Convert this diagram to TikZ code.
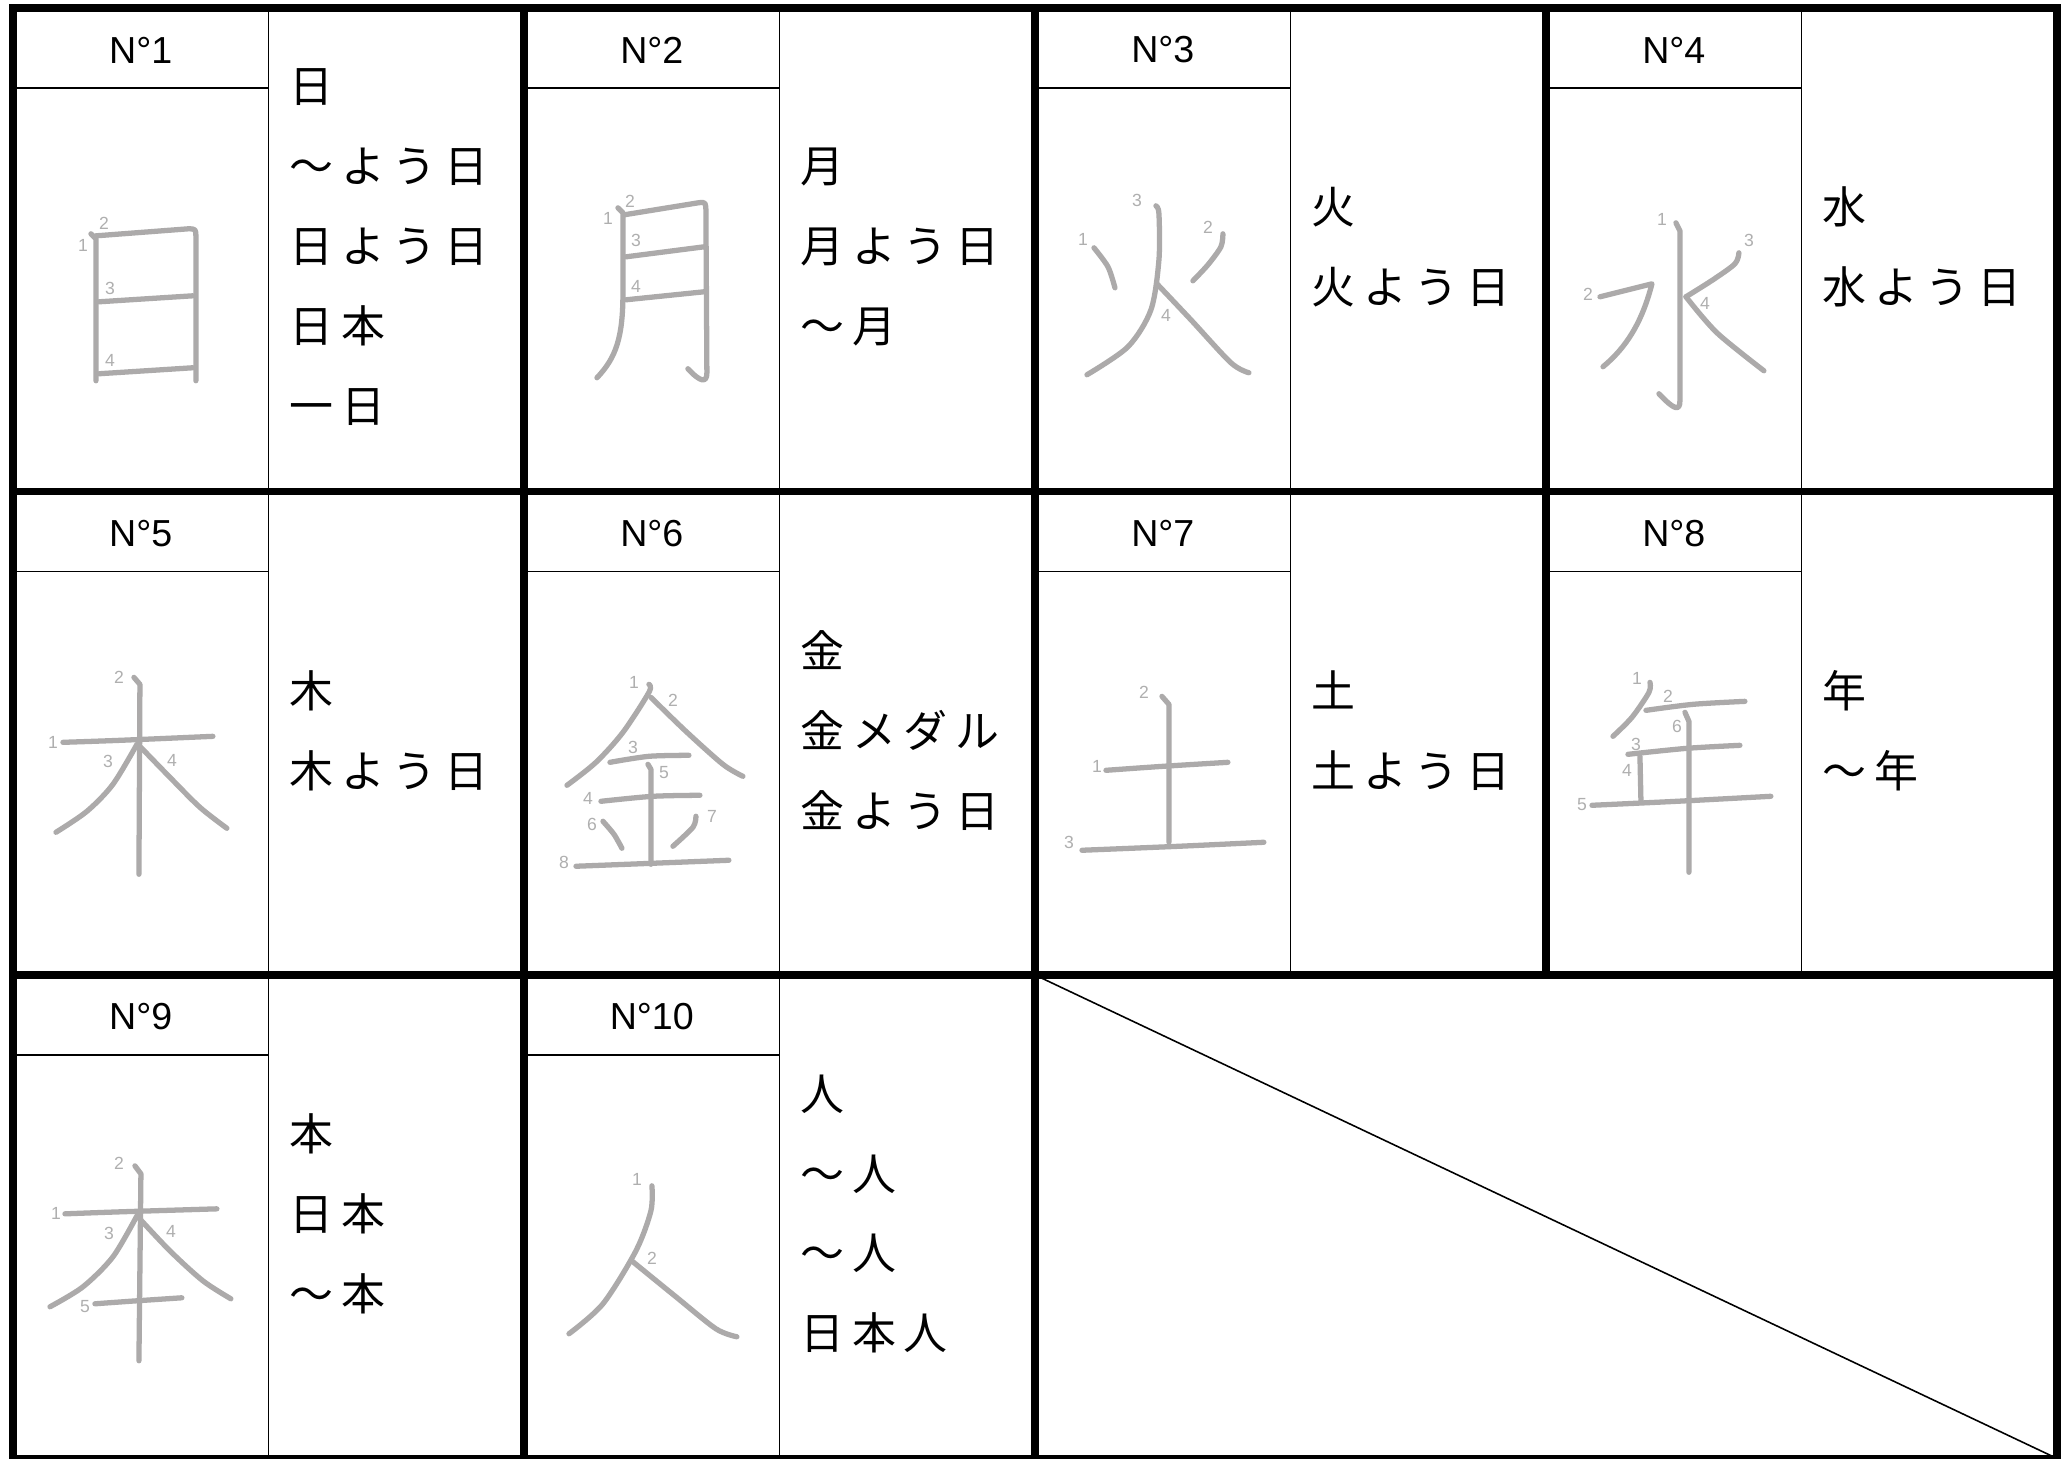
\documentclass[tikz,border=0pt]{standalone}
\usepackage{fontspec}
\setmainfont{Liberation Sans}
\newfontfamily\jpfont[LetterSpace=18]{Noto Sans CJK JP}
\usetikzlibrary{positioning}
\definecolor{strokegray}{RGB}{172,170,170}
\definecolor{numgray}{RGB}{175,175,175}
\tikzset{
  gridthick/.style={black,line width=2.2pt},
  gridthin/.style={black,line width=0.55pt},
  kstroke/.style={strokegray,line width=1.5pt,line cap=round,line join=round},
  knum/.style={text=numgray,font=\fontsize{5}{6}\selectfont,inner sep=0pt},
  headtext/.style={font=\fontsize{10.7}{12}\selectfont,inner sep=0pt},
  wordtext/.style={font=\jpfont\fontsize{12.5}{22.76}\selectfont,align=left,anchor=west,inner xsep=0pt},
  kanjibox/.style={x=0.01cm,y=-0.01cm}
}

\begin{document}
\begin{tikzpicture}
\useasboundingbox (0,0) rectangle (20.67,14.59);
\fill[white] (0,0) rectangle (20.67,14.59);

% thin lines
\draw[gridthin] (2.685,0.005) -- (2.685,14.51);
\draw[gridthin] (7.795,0.005) -- (7.795,14.51);
\draw[gridthin] (12.905,4.84) -- (12.905,14.51);
\draw[gridthin] (18.015,4.84) -- (18.015,14.51);
\draw[gridthin] (0.13,13.71) -- (2.685,13.71);
\draw[gridthin] (5.24,13.71) -- (7.795,13.71);
\draw[gridthin] (10.35,13.71) -- (12.905,13.71);
\draw[gridthin] (15.46,13.71) -- (18.015,13.71);
\draw[gridthin] (0.13,8.875) -- (2.685,8.875);
\draw[gridthin] (5.24,8.875) -- (7.795,8.875);
\draw[gridthin] (10.35,8.875) -- (12.905,8.875);
\draw[gridthin] (15.46,8.875) -- (18.015,8.875);
\draw[gridthin] (0.13,4.04) -- (2.685,4.04);
\draw[gridthin] (5.24,4.04) -- (7.795,4.04);
\draw[black,line width=0.45pt] (10.35,4.84) -- (20.57,0.005);

% thick lines
\draw[gridthick] (0.13,0.005) rectangle (20.57,14.51);
\draw[gridthick] (0.13,9.675) -- (20.57,9.675);
\draw[gridthick] (0.13,4.84) -- (20.57,4.84);
\draw[gridthick] (5.24,0.005) -- (5.24,14.51);
\draw[gridthick] (10.35,0.005) -- (10.35,14.51);
\draw[gridthick] (15.46,4.84) -- (15.46,14.51);

% headers
\node[headtext] (h1) at (1.408,14.09) {N°1};
\node[headtext] (h2) at (6.518,14.09) {N°2};
\node[headtext] (h3) at (11.628,14.09) {N°3};
\node[headtext] (h4) at (16.738,14.09) {N°4};
\node[headtext] (h5) at (1.408,9.255) {N°5};
\node[headtext] (h6) at (6.518,9.255) {N°6};
\node[headtext] (h7) at (11.628,9.255) {N°7};
\node[headtext] (h8) at (16.738,9.255) {N°8};
\node[headtext] (h9) at (1.408,4.42) {N°9};
\node[headtext] (h10) at (6.518,4.42) {N°10};

% words
\node[wordtext] (w1) at (2.885,12.12) {日\\〜よう日\\日よう日\\日本\\一日};
\node[wordtext] (w2) at (7.995,12.12) {月\\月よう日\\〜月};
\node[wordtext] (w3) at (13.105,12.12) {火\\火よう日};
\node[wordtext] (w4) at (18.215,12.12) {水\\水よう日};
\node[wordtext] (w5) at (2.885,7.285) {木\\木よう日};
\node[wordtext] (w6) at (7.995,7.285) {金\\金メダル\\金よう日};
\node[wordtext] (w7) at (13.105,7.285) {土\\土よう日};
\node[wordtext] (w8) at (18.215,7.285) {年\\〜年};
\node[wordtext] (w9) at (2.885,2.45) {本\\日本\\〜本};
\node[wordtext] (w10) at (7.995,2.45) {人\\〜人\\〜人\\日本人};

% kanji 1
\begin{scope}[shift={(0.13,14.51)},kanjibox]
\draw[kstroke] (78,226) -- (83,231) -- (83,373);
\draw[kstroke] (83,228) -- (175,221) .. controls (183,221) .. (183,230) -- (183,373);
\draw[kstroke] (86,294) -- (180,288);
\draw[kstroke] (86,366) -- (180,360);
\node[knum] (a1) at (70,238) {1};
\node[knum] (a2) at (91,216) {2};
\node[knum] (a3) at (97,281) {3};
\node[knum] (a4) at (97,353) {4};
\end{scope}

% kanji 2
\begin{scope}[shift={(5.24,14.51)},kanjibox]
\draw[kstroke] (94,200) -- (99,205) -- (99,285) .. controls (99,330) and (92,350) .. (73,370);
\draw[kstroke] (100,207) -- (174,195) .. controls (182,194) .. (182,205) -- (183,365) .. controls (183,376) and (176,374) .. (164,361);
\draw[kstroke] (102,249) -- (180,239);
\draw[kstroke] (102,292) -- (180,284);
\node[knum] (b1) at (84,211) {1};
\node[knum] (b2) at (106,194) {2};
\node[knum] (b3) at (112,233) {3};
\node[knum] (b4) at (112,279) {4};
\end{scope}

% kanji 3
\begin{scope}[shift={(10.35,14.51)},kanjibox]
\draw[kstroke] plot[smooth] coordinates {(59,240) (73,259) (80,280)};
\draw[kstroke] plot[smooth] coordinates {(188,226) (186,239) (173,257) (158,273)};
\draw[kstroke] plot[smooth] coordinates {(121,198) (124,206) (124,252) (116,302) (93,339) (52,367)};
\draw[kstroke] plot[smooth] coordinates {(122,276) (156,312) (196,355) (214,365)};
\node[knum] (c1) at (48,232) {1};
\node[knum] (c2) at (173,220) {2};
\node[knum] (c3) at (102,193) {3};
\node[knum] (c4) at (131,308) {4};
\end{scope}

% kanji 4
\begin{scope}[shift={(15.46,14.51)},kanjibox]
\draw[kstroke] (130,215) -- (134,223) -- (134,393) .. controls (134,404) and (128,402) .. (113,386);
\draw[kstroke] (54,289) -- (106,276) .. controls (96,315) and (80,340) .. (57,359);
\draw[kstroke] plot[smooth] coordinates {(193,245) (189,256) (167,272) (140,289)};
\draw[kstroke] plot[smooth] coordinates {(140,289) (171,325) (218,363)};
\node[knum] (d1) at (116,212) {1};
\node[knum] (d2) at (42,287) {2};
\node[knum] (d3) at (203,233) {3};
\node[knum] (d4) at (159,296) {4};
\end{scope}

% kanji 5
\begin{scope}[shift={(0.13,9.675)},kanjibox]
\draw[kstroke] plot[smooth] coordinates {(50,251) (107,249) (200,245)};
\draw[kstroke] (121,186) -- (127,193) -- (126,383);
\draw[kstroke] plot[smooth] coordinates {(124,253) (100,293) (74,320) (43,341)};
\draw[kstroke] plot[smooth] coordinates {(125,253) (157,286) (187,316) (214,337)};
\node[knum] (e1) at (40,251) {1};
\node[knum] (e2) at (106,186) {2};
\node[knum] (e3) at (95,270) {3};
\node[knum] (e4) at (159,269) {4};
\end{scope}

% kanji 6
\begin{scope}[shift={(5.24,9.675)},kanjibox]
\draw[kstroke] plot[smooth] coordinates {(125,193) (125,201) (99,241) (72,271) (43,294)};
\draw[kstroke] plot[smooth] coordinates {(127,206) (162,240) (199,273) (219,285)};
\draw[kstroke] plot[smooth] coordinates {(86,271) (125,265) (165,264)};
\draw[kstroke] plot[smooth] coordinates {(77,310) (129,305) (176,304)};
\draw[kstroke] (124,273) -- (127,278) -- (127,373);
\draw[kstroke] plot[smooth] coordinates {(79,330) (90,343) (98,357)};
\draw[kstroke] plot[smooth] coordinates {(172,325) (169,336) (149,355)};
\draw[kstroke] plot[smooth] coordinates {(52,375) (129,372) (205,369)};
\node[knum] (f1) at (110,191) {1};
\node[knum] (f2) at (149,209) {2};
\node[knum] (f3) at (109,256) {3};
\node[knum] (f4) at (64,307) {4};
\node[knum] (f5) at (140,281) {5};
\node[knum] (f6) at (68,333) {6};
\node[knum] (f7) at (188,325) {7};
\node[knum] (f8) at (40,371) {8};
\end{scope}

% kanji 7
\begin{scope}[shift={(10.35,9.675)},kanjibox]
\draw[kstroke] plot[smooth] coordinates {(71,279) (128,275) (193,271)};
\draw[kstroke] (127,205) -- (134,213) -- (134,351);
\draw[kstroke] plot[smooth] coordinates {(47,359) (144,355) (229,351)};
\node[knum] (g1) at (62,275) {1};
\node[knum] (g2) at (109,201) {2};
\node[knum] (g3) at (34,351) {3};
\end{scope}

% kanji 8
\begin{scope}[shift={(15.46,9.675)},kanjibox]
\draw[kstroke] plot[smooth] coordinates {(104,191) (103,201) (86,226) (67,245)};
\draw[kstroke] plot[smooth] coordinates {(100,219) (147,213) (199,210)};
\draw[kstroke] plot[smooth] coordinates {(82,263) (141,257) (194,254)};
\draw[kstroke] (94,265) -- (95,310);
\draw[kstroke] plot[smooth] coordinates {(46,314) (131,310) (225,305)};
\draw[kstroke] (139,221) -- (143,230) -- (143,381);
\node[knum] (k1) at (91,187) {1};
\node[knum] (k2) at (122,205) {2};
\node[knum] (k3) at (90,253) {3};
\node[knum] (k4) at (81,279) {4};
\node[knum] (k5) at (36,313) {5};
\node[knum] (k6) at (131,235) {6};
\end{scope}

% kanji 9
\begin{scope}[shift={(0.13,4.84)},kanjibox]
\draw[kstroke] plot[smooth] coordinates {(52,239) (107,237) (204,234)};
\draw[kstroke] (122,191) -- (128,199) -- (126,386);
\draw[kstroke] plot[smooth] coordinates {(124,241) (100,282) (70,312) (37,332)};
\draw[kstroke] plot[smooth] coordinates {(125,242) (157,276) (190,306) (218,324)};
\draw[kstroke] plot[smooth] coordinates {(82,329) (124,326) (169,323)};
\node[knum] (m1) at (43,239) {1};
\node[knum] (m2) at (106,188) {2};
\node[knum] (m3) at (96,259) {3};
\node[knum] (m4) at (158,257) {4};
\node[knum] (m5) at (72,332) {5};
\end{scope}

% kanji 10
\begin{scope}[shift={(5.24,4.84)},kanjibox]
\draw[kstroke] plot[smooth] coordinates {(128,211) (127,236) (112,276) (79,329) (45,359)};
\draw[kstroke] plot[smooth] coordinates {(109,287) (152,322) (192,354) (213,362)};
\node[knum] (p1) at (113,205) {1};
\node[knum] (p2) at (128,284) {2};
\end{scope}

\end{tikzpicture}
\end{document}
